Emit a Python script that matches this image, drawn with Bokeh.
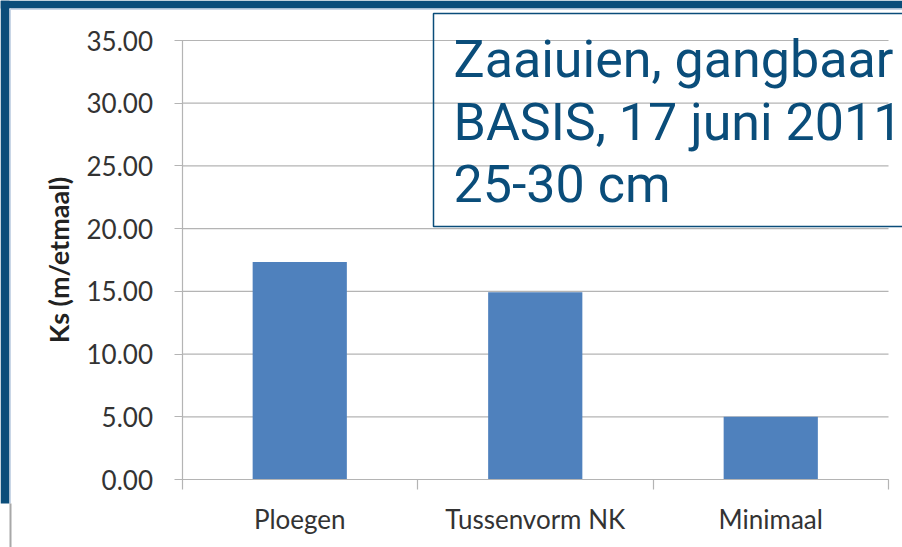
from bokeh.plotting import figure
from bokeh.models import (Range1d, FixedTicker, NumeralTickFormatter, BoxAnnotation, Label)
from bokeh.embed import file_html
from bokeh.resources import INLINE

categories = ["Ploegen", "Tussenvorm NK", "Minimaal"]
ks_values = [17.35, 14.92, 5.0]
y_ticks = [0, 5, 10, 15, 20, 25, 30, 35]
y_label = "Ks (m/etmaal)"
title_lines = ["Zaaiuien, gangbaar", "BASIS, 17 juni 2011", "25-30 cm"]

BLUE = "#0a4d7a"
BAR = "#4f81bd"
GRID = "#b4b4b4"
TXT = "#333333"
FONT = "Lato"

W, H = 902, 547
# plot-area pixel placement (left, right, top, bottom)
PX_L, PX_R, PX_T, PX_B = 181.5, 888.0, 40.0, 479.0

n = len(categories)
positions = [i + 0.5 for i in range(n)]
y0, y1 = y_ticks[0], y_ticks[-1]
sx = (PX_R - PX_L) / n
sy = (PX_B - PX_T) / (y1 - y0)
x_range = Range1d(0 - PX_L / sx, n + (W - PX_R) / sx)
y_range = Range1d(y0 - (H - PX_B) / sy, y1 + PX_T / sy)

p = figure(width=W, height=H, output_backend="svg", toolbar_location=None,
           x_range=x_range, y_range=y_range,
           min_border=0, min_border_left=0, min_border_right=0, min_border_top=0, min_border_bottom=0)
p.outline_line_color = None
p.background_fill_color = "white"
p.border_fill_color = "white"
p.xgrid.visible = False
p.ygrid.visible = False

# horizontal gridlines, limited to the plot area
p.segment(x0=[0] * len(y_ticks), x1=[n] * len(y_ticks), y0=y_ticks, y1=y_ticks,
          line_color=GRID, line_width=1.2)

p.vbar(x=positions, top=ks_values, width=0.4, fill_color=BAR, line_color=None)

ya = p.yaxis[0]
ya.fixed_location = 0
ya.bounds = (y0, y1)
ya.ticker = FixedTicker(ticks=y_ticks)
ya.formatter = NumeralTickFormatter(format="0.00")
ya.axis_line_color = GRID
ya.axis_line_width = 1.2
ya.major_tick_line_color = GRID
ya.major_tick_line_width = 1.2
ya.major_tick_out = 8
ya.major_tick_in = 0
ya.minor_tick_line_color = None
ya.major_label_standoff = 21
ya.major_label_text_font = FONT
ya.major_label_text_font_size = "26px"
ya.major_label_text_color = TXT
ya.axis_label = y_label
ya.axis_label_text_font = FONT
ya.axis_label_text_font_style = "bold"
ya.axis_label_text_font_size = "27px"
ya.axis_label_text_color = "#222222"
ya.axis_label_standoff = 9

xa = p.xaxis[0]
xa.fixed_location = y0
xa.bounds = (0, n)
xa.ticker = FixedTicker(ticks=positions, minor_ticks=list(range(n + 1)))
xa.major_label_overrides = {pos: cat for pos, cat in zip(positions, categories)}
xa.axis_line_color = GRID
xa.axis_line_width = 1.2
xa.major_tick_line_color = None
xa.major_tick_out = 0
xa.major_tick_in = 0
xa.minor_tick_line_color = GRID
xa.minor_tick_line_width = 1.2
xa.minor_tick_out = 10
xa.minor_tick_in = 0
xa.major_label_standoff = 13
xa.major_label_text_font = FONT
xa.major_label_text_font_size = "26px"
xa.major_label_text_color = TXT

def cbox(l, r, t, b, **kw):
    return BoxAnnotation(left=l, right=r, top=t, bottom=b,
                         left_units="canvas", right_units="canvas",
                         top_units="canvas", bottom_units="canvas", level="overlay", **kw)

# decorative frame
p.add_layout(cbox(0, W, 0, 8, fill_color=BLUE, fill_alpha=1, line_color=None))
p.add_layout(cbox(0, 9, 0, 503, fill_color=BLUE, fill_alpha=1, line_color=None))
p.add_layout(cbox(9, W, 8, 9.5, fill_color="#c9d6e6", fill_alpha=1, line_color=None))
p.add_layout(cbox(9, 10.5, 8, 503, fill_color="#c9d6e6", fill_alpha=1, line_color=None))
p.add_layout(cbox(9, 11, 503, H, fill_color="#a8a8a8", fill_alpha=1, line_color=None))
# title box
p.add_layout(cbox(433, W + 20, 13, 226, fill_alpha=0, line_color=BLUE, line_alpha=1, line_width=1.5))
for i, line in enumerate(title_lines):
    p.add_layout(Label(x=453, y=59 + i * 62.5, x_units="canvas", y_units="canvas", text=line,
                       text_font="Roboto", text_font_size="52px", text_color=BLUE,
                       text_baseline="alphabetic", level="overlay"))

open("out.html", "w").write(file_html(p, INLINE))
